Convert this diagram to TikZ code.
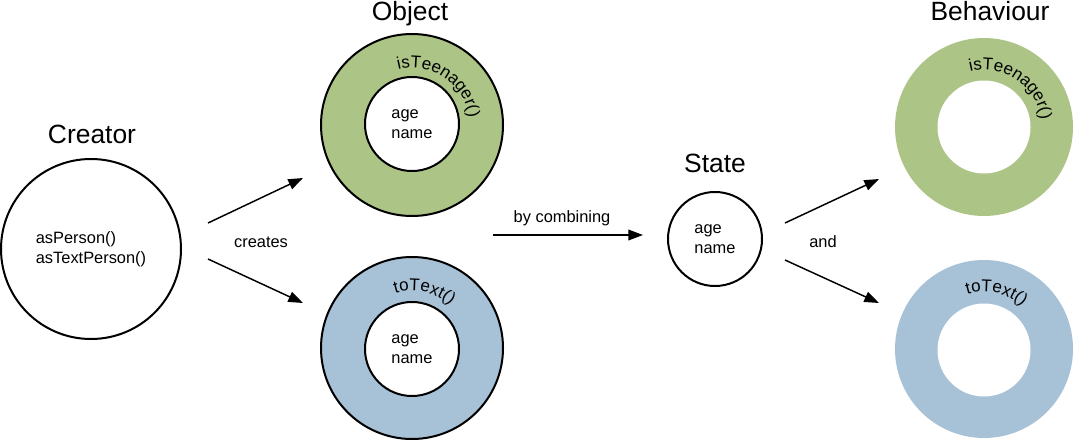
\documentclass[tikz,border=0pt]{standalone}
\usepackage{fontspec}
\setmainfont{Liberation Sans}
\usetikzlibrary{arrows.meta,decorations.text}
\definecolor{ringgreen}{HTML}{ADC487}
\definecolor{ringblue}{HTML}{A7C1D7}
\tikzset{
  title/.style={font=\fontsize{19.8pt}{24pt}\selectfont, anchor=base},
  lbl/.style={font=\fontsize{12.3pt}{14.25pt}\selectfont, anchor=base},
  body/.style={font=\fontsize{12.3pt}{15pt}\selectfont, align=left},
  outl/.style={circle, draw=black, line width=1.5pt, inner sep=0pt},
  ring/.style={circle, inner sep=0pt},
  hole/.style={circle, fill=white, inner sep=0pt},
  arr/.style={line width=1.1pt, -{Triangle[length=11pt,width=8pt]}},
  arctext/.style={decoration={text along path, text={|\fontsize{12.8pt}{14pt}\selectfont|#1}}, decorate}
}
\begin{document}
\begin{tikzpicture}[x=0.75pt,y=-0.75pt]
\useasboundingbox (0,0) rectangle (1074,439);
% Creator
\node[outl, minimum size=135pt] (creator) at (91,249) {};
\node[body] (creatortext) at (creator.center) {asPerson()\\asTextPerson()};
\node[title] (creatortitle) at (92,143) {Creator};
% Object rings
\node[outl, fill=ringgreen, minimum size=136.5pt] (objg) at (412,125) {};
\node[outl, fill=white, minimum size=70.5pt] (objgin) at (412,124) {};
\node[body] (objgtext) at (objgin.center) {age\\name};
\node[outl, fill=ringblue, minimum size=136.5pt] (objb) at (412,348) {};
\node[outl, fill=white, minimum size=70.5pt] (objbin) at (412,349) {};
\node[body] (objbtext) at (objbin.center) {age\\name};
\node[title] (objtitle) at (410,20) {Object};
\path[arctext={isTeenager()}] ([shift={(104:43pt)}]objg.center) arc[start angle=104, end angle=0, radius=43pt];
\path[arctext={toText()}] ([shift={(107:43pt)}]objb.center) arc[start angle=107, end angle=20, radius=43pt];
% State
\node[outl, minimum size=70.5pt] (state) at (715,239) {};
\node[body] (statetext) at (state.center) {age\\name};
\node[title] (statetitle) at (715,172) {State};
% Behaviour rings
\node[ring, fill=ringgreen, minimum size=133.5pt] (behg) at (984,127) {};
\node[hole, minimum size=69.75pt] (behgin) at (984,127) {};
\node[ring, fill=ringblue, minimum size=133.5pt] (behb) at (984,349) {};
\node[hole, minimum size=69.75pt] (behbin) at (984,350) {};
\node[title] (behtitle) at (990,21) {Behaviour};
\path[arctext={isTeenager()}] ([shift={(104:43pt)}]behg.center) arc[start angle=104, end angle=0, radius=43pt];
\path[arctext={toText()}] ([shift={(107:43pt)}]behb.center) arc[start angle=107, end angle=20, radius=43pt];
% connector end points
\coordinate (a1s) at (208,223); \coordinate (a1e) at (303,178);
\coordinate (a2s) at (208,259); \coordinate (a2e) at (303,303);
\coordinate (a3s) at (493,235); \coordinate (a3e) at (643,235);
\coordinate (a4s) at (785,223); \coordinate (a4e) at (879,179);
\coordinate (a5s) at (785,260); \coordinate (a5e) at (879,303);
\draw[arr] (a1s) -- (a1e);
\draw[arr] (a2s) -- (a2e);
\draw[arr] (a3s) -- (a3e);
\draw[arr] (a4s) -- (a4e);
\draw[arr] (a5s) -- (a5e);
\node[lbl] (creates) at (261,247) {creates};
\node[lbl] (combining) at (562,222) {by combining};
\node[lbl] (and) at (823,247) {and};
\end{tikzpicture}
\end{document}
